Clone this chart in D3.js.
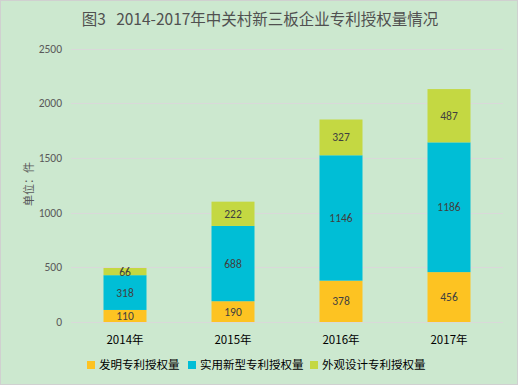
<!DOCTYPE html>
<html>
<head>
<meta charset="utf-8">
<script src="https://cdn.jsdelivr.net/npm/d3@7"></script>
<style>
  body { margin: 0; background: #fff; }
  svg { display: block; font-family: "Noto Sans CJK SC", "Noto Sans", sans-serif; }
</style>
</head>
<body>
<svg id="chart" width="518" height="385"></svg>
<script>
// data
var years = ["2014年", "2015年", "2016年", "2017年"];
var invention = [110, 190, 378, 456];
var utility = [318, 688, 1146, 1186];
var design = [66, 222, 327, 487];
var seriesNames = ["发明专利授权量", "实用新型专利授权量", "外观设计专利授权量"];
var yTicks = [0, 500, 1000, 1500, 2000, 2500];

var colors = ["#FDC322", "#00BED6", "#C4D842"];

var svg = d3.select("#chart");
var W = 518, H = 385;

svg.append("rect")
  .attr("x", 0.5).attr("y", 0.5)
  .attr("width", W - 1).attr("height", H - 1)
  .attr("fill", "#CCE8CF")
  .attr("stroke", "#D0D0D0");

// title
svg.append("text")
  .attr("x", 260).attr("y", 25)
  .attr("text-anchor", "middle")
  .attr("fill", "#505050")
  .style("font-size", "15.5px")
  .style("white-space", "pre")
  .text("图3   2014-2017年中关村新三板企业专利授权量情况");

var margin = {left: 71, right: 15, top: 48, bottom: 63};

var x = d3.scaleBand()
  .domain(years)
  .range([margin.left, W - margin.right])
  .paddingInner(0.6)
  .paddingOuter(0.3);

var y = d3.scaleLinear()
  .domain([0, 2500])
  .range([322, 48.5]);

// gridlines
svg.append("g")
  .selectAll("line")
  .data(yTicks)
  .join("line")
  .attr("x1", margin.left).attr("x2", W - margin.right)
  .attr("y1", function(d) { return Math.round(y(d)) + 0.5; })
  .attr("y2", function(d) { return Math.round(y(d)) + 0.5; })
  .attr("stroke", "#D9D9D9")
  .attr("stroke-width", 1);

// y axis labels
var yAxis = d3.axisLeft(y).tickValues(yTicks).tickFormat(d3.format("d")).tickSize(0).tickPadding(9);
var gy = svg.append("g")
  .attr("transform", "translate(" + margin.left + ",0)")
  .call(yAxis);
gy.select(".domain").remove();
gy.selectAll("text")
  .attr("fill", "#595959")
  .style("font-family", "Calibri, Carlito, 'Liberation Sans', sans-serif")
  .style("font-size", "11.5px");

// y title
svg.append("text")
  .attr("transform", "translate(29,184) rotate(-90)")
  .attr("text-anchor", "middle")
  .attr("dy", "0.35em")
  .attr("fill", "#595959")
  .style("font-size", "11px")
  .text("单位：件");

// stacked bars
var table = years.map(function(yr, i) {
  return {year: yr, a: invention[i], b: utility[i], c: design[i]};
});
var stack = d3.stack().keys(["a", "b", "c"]);
var layers = stack(table);

var bw = 43;
layers.forEach(function(layer, li) {
  var g = svg.append("g");
  g.selectAll("rect")
    .data(layer)
    .join("rect")
    .attr("x", function(d) { return x(d.data.year) + x.bandwidth() / 2 - bw / 2; })
    .attr("y", function(d) { return y(d[1]); })
    .attr("width", bw)
    .attr("height", function(d) { return y(d[0]) - y(d[1]); })
    .attr("fill", colors[li]);
  g.selectAll("text")
    .data(layer)
    .join("text")
    .attr("x", function(d) { return x(d.data.year) + x.bandwidth() / 2; })
    .attr("y", function(d) { return (y(d[0]) + y(d[1])) / 2; })
    .attr("dy", "0.35em")
    .attr("text-anchor", "middle")
    .attr("fill", "#404040")
    .style("font-family", "Calibri, Carlito, 'Liberation Sans', sans-serif")
    .style("font-size", "11.5px")
    .text(function(d) { return d[1] - d[0]; });
});

// x axis labels
var xAxis = d3.axisBottom(x).tickSize(0).tickPadding(14);
var gx = svg.append("g")
  .attr("transform", "translate(0,322)")
  .call(xAxis);
gx.select(".domain").remove();
gx.selectAll("text")
  .attr("fill", "#000")
  .style("font-size", "11.5px")
  .style("font-family", "'Noto Sans CJK SC', sans-serif");

// legend
var legendX = [87, 188, 310];
var lg = svg.append("g");
seriesNames.forEach(function(name, i) {
  lg.append("rect")
    .attr("x", legendX[i]).attr("y", 361)
    .attr("width", 8).attr("height", 8)
    .attr("fill", colors[i]);
  lg.append("text")
    .attr("x", legendX[i] + 12).attr("y", 365)
    .attr("dy", "0.35em")
    .attr("fill", "#000")
    .style("font-size", "11.5px")
    .text(name);
});
</script>
</body>
</html>
